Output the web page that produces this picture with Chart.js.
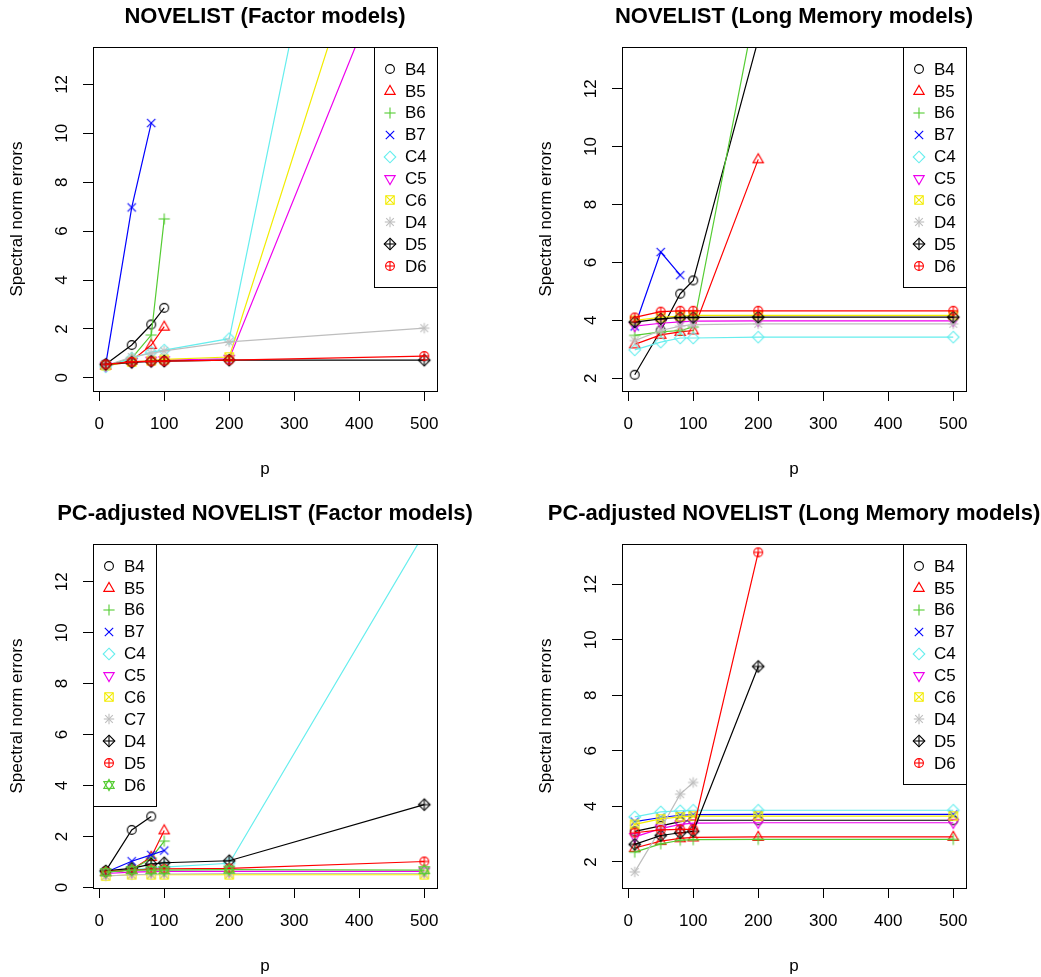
<!DOCTYPE html>
<html>
<head>
<meta charset="utf-8">
<script src="https://cdn.jsdelivr.net/npm/chart.js@4.4.0/dist/chart.umd.min.js"></script>
<style>
  html, body { margin: 0; padding: 0; background: #fff; overflow: hidden; }
  body { width: 1041px; height: 977px; position: relative; }
  canvas { position: absolute; }
</style>
</head>
<body>
<canvas id="c1" width="530" height="480" style="left:0;top:0"></canvas>
<canvas id="c2" width="530" height="480" style="left:529px;top:0"></canvas>
<canvas id="c3" width="530" height="480" style="left:0;top:497px"></canvas>
<canvas id="c4" width="530" height="480" style="left:529px;top:497px"></canvas>
<script>
"use strict";

// p values on the x axis
const pValues = [10, 50, 80, 100, 200, 500];

const namesTen = ["B4", "B5", "B6", "B7", "C4", "C5", "C6", "D4", "D5", "D6"];
const namesEleven = ["B4", "B5", "B6", "B7", "C4", "C5", "C6", "C7", "D4", "D5", "D6"];

const xTicks = [0, 100, 200, 300, 400, 500];
const yTicks = [0, 2, 4, 6, 8, 10, 12];

// NOVELIST (Factor models)
const novFactor = [
  [0.55, 1.34, 2.18, 2.86, null, null],
  [0.5, 0.7, 1.34, 2.09, null, null],
  [0.5, 0.8, 1.75, 6.5, null, null],
  [0.55, 6.97, 10.42, null, null, null],
  [0.45, 0.8, 1.05, 1.13, 1.6, 40.5],
  [0.5, 0.65, 0.7, 0.72, 0.78, 20.5],
  [0.5, 0.65, 0.7, 0.75, 0.85, 25.9],
  [0.5, 0.85, 1.0, 1.1, 1.47, 2.03],
  [0.55, 0.63, 0.67, 0.68, 0.72, 0.72],
  [0.55, 0.65, 0.67, 0.68, 0.72, 0.89]
];

// NOVELIST (Long Memory models)
const novLong = [
  [2.12, 3.65, 4.92, 5.38, 13.7, null],
  [3.17, 3.5, 3.6, 3.65, 9.56, null],
  [3.48, 3.6, 3.65, 3.77, 15.3, null],
  [3.79, 6.36, 5.56, null, null, null],
  [2.98, 3.25, 3.39, 3.39, 3.42, 3.42],
  [3.8, 3.9, 3.95, 3.97, 3.98, 3.98],
  [4.0, 4.1, 4.15, 4.17, 4.17, 4.17],
  [3.3, 3.65, 3.8, 3.85, 3.88, 3.88],
  [3.94, 4.05, 4.1, 4.1, 4.11, 4.11],
  [4.1, 4.3, 4.33, 4.33, 4.33, 4.33]
];

// PC-adjusted NOVELIST (Factor models)
const pcFactor = [
  [0.65, 2.26, 2.79, null, null, null],
  [0.6, 0.7, 1.2, 2.24, null, null],
  [0.6, 0.7, 1.15, 1.82, null, null],
  [0.6, 1.03, 1.28, 1.45, null, null],
  [0.6, 0.7, 0.75, 0.8, 0.95, 13.9],
  [0.55, 0.6, 0.62, 0.63, 0.63, 0.63],
  [0.45, 0.5, 0.5, 0.5, 0.5, 0.5],
  [0.45, 0.5, 0.52, 0.53, 0.55, 0.55],
  [0.65, 0.75, 0.92, 0.97, 1.05, 3.25],
  [0.62, 0.68, 0.72, 0.73, 0.75, 1.02],
  [0.6, 0.68, 0.68, 0.68, 0.7, 0.68]
];

// PC-adjusted NOVELIST (Long Memory models)
const pcLong = [
  [3.1, 3.3, 3.45, 3.5, 3.5, 3.5],
  [2.5, 2.75, 2.85, 2.88, 2.9, 2.9],
  [2.35, 2.65, 2.78, 2.8, 2.81, 2.81],
  [3.45, 3.6, 3.68, 3.7, 3.71, 3.71],
  [3.62, 3.8, 3.84, 3.86, 3.86, 3.86],
  [2.9, 3.2, 3.35, 3.4, 3.41, 3.41],
  [3.35, 3.55, 3.62, 3.65, 3.65, 3.65],
  [1.64, 3.2, 4.44, 4.86, null, null],
  [2.63, 2.95, 3.05, 3.1, 9.04, null],
  [3.05, 3.15, 3.17, 3.17, 13.15, null]
];

const palette = ["#000000", "#FF0000", "#55CC33", "#0000FF", "#66EEEE", "#EE00EE", "#F2EC00", "#BEBEBE"];
const fontFamily = '"Liberation Sans", Arial, Helvetica, sans-serif';

// R style plotting symbols, pch 1..11
function makeMarker(pch, color) {
  const s = 16;
  const c = document.createElement("canvas");
  c.width = s;
  c.height = s;
  const g = c.getContext("2d");
  g.strokeStyle = color;
  g.lineWidth = 1.1;
  g.translate(s / 2, s / 2);
  const r = 4.4;
  function poly(pts) {
    g.beginPath();
    g.moveTo(pts[0][0], pts[0][1]);
    for (let i = 1; i < pts.length; i++) g.lineTo(pts[i][0], pts[i][1]);
    g.closePath();
    g.stroke();
  }
  function seg(x1, y1, x2, y2) {
    g.beginPath();
    g.moveTo(x1, y1);
    g.lineTo(x2, y2);
    g.stroke();
  }
  const up = [[-5.2, 3.4], [5.2, 3.4], [0, -5.6]];
  const down = [[-5.2, -3.4], [5.2, -3.4], [0, 5.6]];
  if (pch === 1 || pch === 10) {
    g.beginPath();
    g.arc(0, 0, r, 0, Math.PI * 2);
    g.stroke();
    if (pch === 10) { seg(-r, 0, r, 0); seg(0, -r, 0, r); }
  } else if (pch === 2) {
    poly(up);
  } else if (pch === 3) {
    seg(-5.6, 0, 5.6, 0); seg(0, -5.6, 0, 5.6);
  } else if (pch === 4) {
    seg(-4.2, -4.2, 4.2, 4.2); seg(-4.2, 4.2, 4.2, -4.2);
  } else if (pch === 5 || pch === 9) {
    poly([[0, -5.8], [5.8, 0], [0, 5.8], [-5.8, 0]]);
    if (pch === 9) { seg(-5.8, 0, 5.8, 0); seg(0, -5.8, 0, 5.8); }
  } else if (pch === 6) {
    poly(down);
  } else if (pch === 7) {
    g.strokeRect(-4.2, -4.2, 8.4, 8.4);
    seg(-4.2, -4.2, 4.2, 4.2); seg(-4.2, 4.2, 4.2, -4.2);
  } else if (pch === 8) {
    seg(-5.2, 0, 5.2, 0); seg(0, -5.2, 0, 5.2);
    seg(-3.8, -3.8, 3.8, 3.8); seg(-3.8, 3.8, 3.8, -3.8);
  } else if (pch === 11) {
    poly(up); poly(down);
  }
  return c;
}

// frame, title above the plot box and the boxed legend inside it
function panelPlugin(title, names, markers, side) {
  return {
    id: "panelDecor",
    afterDatasetsDraw(chart) {
      const ctx = chart.ctx;
      const a = chart.chartArea;
      ctx.save();
      ctx.strokeStyle = "#000";
      ctx.lineWidth = 1;
      ctx.strokeRect(Math.round(a.left) + 0.5, Math.round(a.top) + 0.5,
        Math.round(a.right - a.left), Math.round(a.bottom - a.top));

      ctx.fillStyle = "#000";
      ctx.font = "bold 22px " + fontFamily;
      ctx.textAlign = "center";
      ctx.textBaseline = "middle";
      ctx.fillText(title, (a.left + a.right) / 2, 17);

      const n = names.length;
      const w = 63;
      const h = Math.round(21.9 * n + 21);
      const x0 = side === "left" ? Math.round(a.left) : Math.round(a.right) - w;
      const y0 = Math.round(a.top);
      ctx.fillStyle = "#fff";
      ctx.fillRect(x0, y0, w, h);
      ctx.strokeRect(x0 + 0.5, y0 + 0.5, w, h);
      ctx.font = "17px " + fontFamily;
      ctx.textAlign = "left";
      ctx.fillStyle = "#000";
      for (let i = 0; i < n; i++) {
        const yy = y0 + 22 + i * 21.9;
        const mk = markers[i];
        ctx.drawImage(mk, Math.round(x0 + 16 - mk.width / 2), Math.round(yy - mk.height / 2));
        ctx.fillText(names[i], x0 + 31, yy + 1);
      }
      ctx.restore();
    }
  };
}

function drawPanel(id, title, names, series, yMin, yMax, side) {
  const n = names.length;
  const markers = names.map((nm, i) => makeMarker(i + 1, palette[i % 8]));
  const datasets = series.map((vals, i) => ({
    label: names[i],
    data: pValues.map((p, j) => ({ x: p, y: vals[j] })),
    borderColor: palette[i % 8],
    backgroundColor: palette[i % 8],
    borderWidth: 1.2,
    pointStyle: markers[i],
    pointRadius: 5,
    showLine: true,
    spanGaps: false,
    order: n - i
  }));

  new Chart(document.getElementById(id), {
    type: "scatter",
    data: { datasets: datasets },
    options: {
      responsive: false,
      animation: false,
      devicePixelRatio: 1,
      events: [],
      layout: { padding: { left: 0, right: 93, top: 47, bottom: 0 } },
      plugins: {
        legend: { display: false },
        tooltip: { enabled: false },
        title: { display: false }
      },
      scales: {
        x: {
          type: "linear",
          min: -9.6,
          max: 519.6,
          afterFit: function (s) { s.height = 89; },
          afterBuildTicks: function (s) { s.ticks = xTicks.map(v => ({ value: v })); },
          border: { display: false },
          grid: { drawOnChartArea: false, drawTicks: true, tickLength: 10, color: "#000", lineWidth: 1 },
          ticks: {
            autoSkip: false, maxRotation: 0, color: "#000", padding: 13,
            font: { family: fontFamily, size: 17 }
          },
          title: {
            display: true, text: "p", color: "#000",
            font: { family: fontFamily, size: 17 },
            padding: { top: 0, bottom: 0 }
          }
        },
        y: {
          type: "linear",
          min: yMin,
          max: yMax,
          afterFit: function (s) { s.width = 93; },
          afterBuildTicks: function (s) {
            s.ticks = yTicks.filter(v => v >= yMin && v <= yMax).map(v => ({ value: v }));
          },
          border: { display: false },
          grid: { drawOnChartArea: false, drawTicks: true, tickLength: 10, color: "#000", lineWidth: 1 },
          ticks: {
            autoSkip: false, minRotation: 90, maxRotation: 90, crossAlign: "center",
            color: "#000", padding: 11,
            font: { family: fontFamily, size: 17 }
          },
          title: {
            display: true, text: "Spectral norm errors", color: "#000",
            font: { family: fontFamily, size: 17 },
            padding: { top: 7, bottom: 0 }
          }
        }
      }
    },
    plugins: [panelPlugin(title, names, markers, side)]
  });
}

drawPanel("c1", "NOVELIST (Factor models)", namesTen, novFactor, -0.54, 13.53, "right");
drawPanel("c2", "NOVELIST (Long Memory models)", namesTen, novLong, 1.56, 13.44, "right");
drawPanel("c3", "PC-adjusted NOVELIST (Factor models)", namesEleven, pcFactor, -0.02, 13.48, "left");
drawPanel("c4", "PC-adjusted NOVELIST (Long Memory models)", namesTen, pcLong, 1.06, 13.45, "right");
</script>
</body>
</html>
